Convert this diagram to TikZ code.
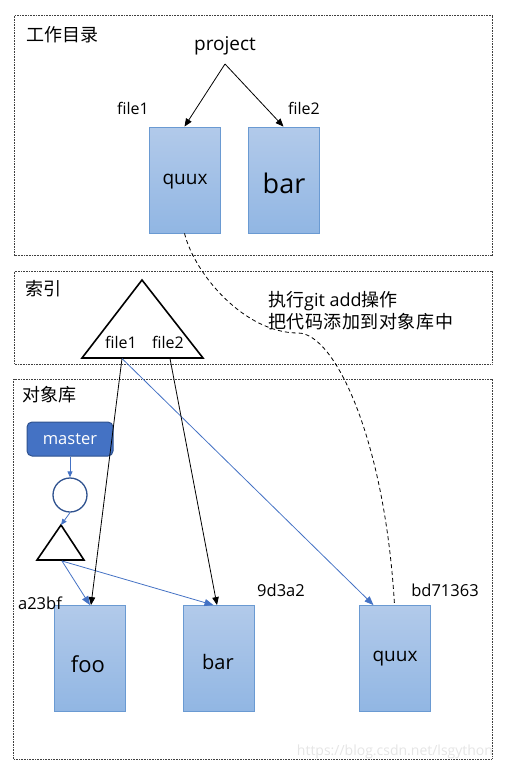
\documentclass[tikz,border=0pt]{standalone}
\usepackage{fontspec}
\setmainfont{Open Sans}
\newfontfamily\cjk{Noto Sans CJK SC}
\usetikzlibrary{arrows.meta}
\definecolor{boxtop}{HTML}{B2CAEA}
\definecolor{boxbot}{HTML}{91B6E3}
\definecolor{boxline}{HTML}{6A9AD2}
\definecolor{gblue}{HTML}{4472C4}
\definecolor{dblue}{HTML}{2F528F}
\definecolor{frame}{HTML}{404040}
\tikzset{
  areaframe/.style={draw=frame, line width=0.7pt, dash pattern=on 0.8pt off 0.8pt},
  filebox/.style={rectangle, draw=boxline, line width=0.8pt, top color=boxtop, bottom color=boxbot, minimum width=71pt, minimum height=106pt, inner sep=0pt},
  heading/.style={font=\cjk\fontsize{18}{20}\selectfont, anchor=west, inner sep=0pt},
  lbl/.style={font=\fontsize{16}{18}\selectfont, inner sep=0pt},
  blk/.style={line width=0.8pt, -{Triangle[length=8pt,width=6.5pt]}},
  blu/.style={draw=gblue, line width=0.8pt, -{Triangle[length=9pt,width=7pt]}, gblue},
}
\begin{document}
\begin{tikzpicture}[x=1pt,y=-1pt]
\useasboundingbox (0,0) rectangle (506,771);
% frames
\draw[areaframe] (14.5,15.5) rectangle (492,255.5);
\draw[areaframe] (14.5,271.5) rectangle (492,364);
\draw[areaframe] (13.5,379) rectangle (492,759);
\node[heading] (h1) at (26,35) {工作目录};
\node[heading] (h2) at (25,289) {索引};
\node[heading] (h3) at (22,395) {对象库};
% working dir
\node[font=\fontsize{19}{21}\selectfont, inner sep=0pt] (proj) at (225,46) {project};
\coordinate (papex) at (225,64);
\node[filebox] (wquux) at (184.5,180) {};
\node[filebox] (wbar) at (283.5,180) {};
\node[font=\fontsize{19}{21}\selectfont] (twquux) at (185,182) {quux};
\node[font=\fontsize{27}{29}\selectfont] (twbar) at (284,183) {bar};
\node[lbl] (wf1) at (133,108) {file1};
\node[lbl] (wf2) at (304,108) {file2};
\draw[blk] (papex) -- (wquux.north);
\draw[blk] (papex) -- (wbar.north);
% index
\coordinate (ta) at (142,280);
\coordinate (tl) at (82,358);
\coordinate (tr) at (203,358);
\draw[line width=1.6pt, line join=miter] (ta) -- (tl) -- (tr) -- cycle;
\node[lbl] (if1) at (121,342) {file1};
\node[lbl] (if2) at (168,342) {file2};
\coordinate (s1) at (122,358.5);
\coordinate (s2) at (170,358.5);
\node[font=\fontsize{18}{22}\selectfont, align=left, anchor=west, inner sep=0pt] (note) at (268,311)
  {{\cjk 执行}git add{\cjk 操作}\\{\cjk\addfontfeature{LetterSpace=3}把代码添加到对象库中}};
% objects
\node[rectangle, rounded corners=5pt, fill=gblue, draw=dblue, line width=1pt, minimum width=86pt, minimum height=34pt, text=white, font=\fontsize{16.5}{18}\selectfont] (master) at (70,439) {master};
\node[circle, draw=dblue, line width=1.3pt, minimum size=34pt, inner sep=0pt] (commit) at (70,495) {};
\coordinate (sa) at (61,525);
\coordinate (sl) at (37,560);
\coordinate (sr) at (84,560);
\draw[line width=1.6pt, line join=miter] (sa) -- (sl) -- (sr) -- cycle;
\coordinate (sb) at (62,561);
\node[filebox] (ofoo) at (89.5,658.5) {};
\node[filebox] (obar) at (218.5,658.5) {};
\node[filebox] (oquux) at (394.5,658.5) {};
\node[font=\fontsize{22}{24}\selectfont] (tofoo) at (88,664) {foo};
\node[font=\fontsize{20}{22}\selectfont] (tobar) at (218,662) {bar};
\node[font=\fontsize{19}{21}\selectfont] (toquux) at (395,659) {quux};
\node[font=\fontsize{16.5}{18}\selectfont, inner sep=0pt] (ha) at (40,603) {a23bf};
\node[font=\fontsize{16.5}{18}\selectfont, inner sep=0pt] (hb) at (281,590) {9d3a2};
\node[font=\fontsize{16.5}{18}\selectfont, inner sep=0pt] (hc) at (445,590) {bd71363};
% connectors
\draw[blu, -{Triangle[length=6pt,width=5pt]}] (master.south) -- (commit.north);
\draw[blu, -{Triangle[length=6pt,width=5pt]}] (commit.south) -- (sa);
\draw[blu] (sb) -- ([xshift=0.5pt]ofoo.north);
\draw[blu] (sb) -- ([xshift=-5pt]obar.north);
\draw[blu] (s1) -- ([xshift=-21pt]oquux.north);
\draw[blk] (s1) -- ([xshift=1.5pt]ofoo.north);
\draw[blk] (s2) -- ([xshift=-1.5pt]obar.north);
\draw[line width=0.8pt, dash pattern=on 4pt off 3pt]
  (wquux.south) .. controls (195,275) and (245,333) .. (298,333)
  .. controls (335,333) and (385,440) .. (oquux.north);
% watermark
\node[font=\fontsize{14}{16}\selectfont, text=black!10, inner sep=0pt] (wm) at (395,752) {https://blog.csdn.net/lsgython};
\end{tikzpicture}
\end{document}
